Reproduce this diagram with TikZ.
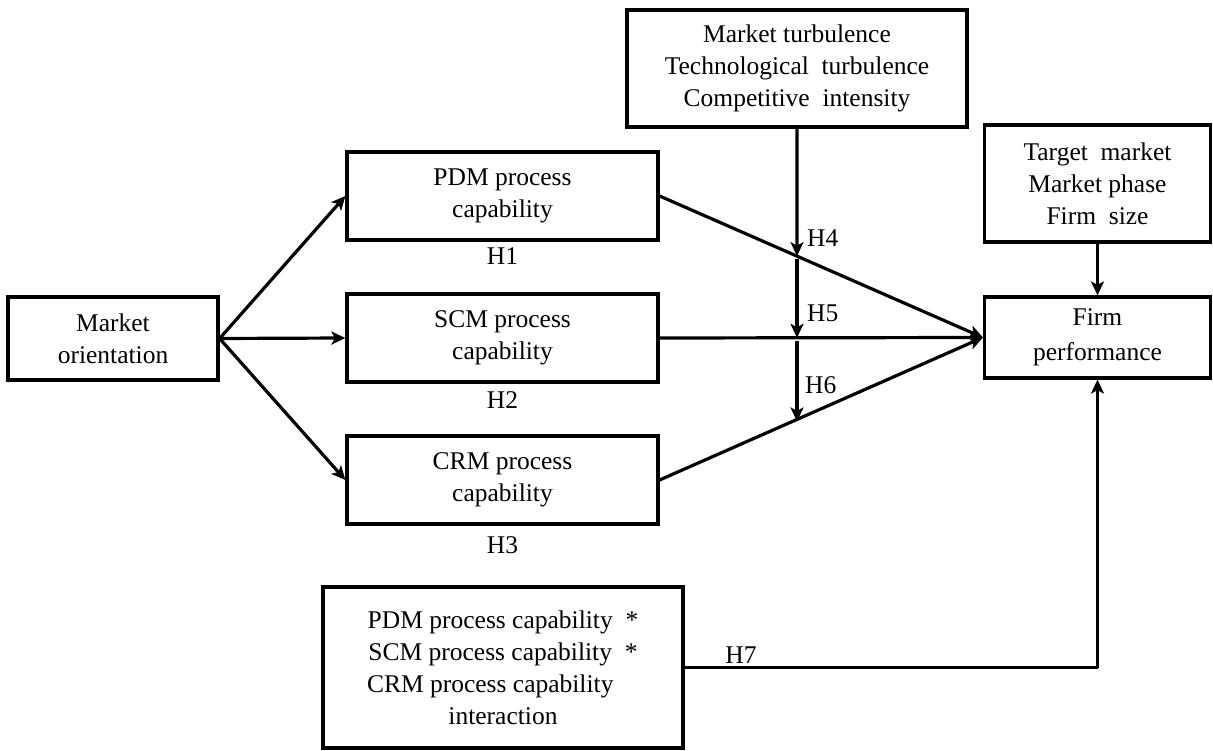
\documentclass[tikz,border=0pt]{standalone}
\usepackage{fontspec}
\setmainfont{Liberation Serif}
\usetikzlibrary{arrows.meta,calc}
\begin{document}
\begin{tikzpicture}[x=1pt,y=-1pt,
  box/.style={draw,line width=3.2pt,inner sep=0pt,align=center,font=\fontsize{25.5}{32}\selectfont},
  lbl/.style={inner sep=0pt,font=\fontsize{25.5}{32}\selectfont},
  arr/.style={line width=3.2pt,-{Stealth[length=14pt,width=13pt,inset=3.5pt]}},
  ln/.style={line width=3.2pt}]
\useasboundingbox (0,0) rectangle (1213,751);
\node[box,minimum width=210,minimum height=83] (mo) at (113,338.5) {Market\\orientation};
\node[box,minimum width=311,minimum height=88] (pdm) at (502.5,196) {PDM process\\capability};
\node[box,minimum width=311,minimum height=88] (scm) at (502.5,338) {SCM process\\capability};
\node[box,minimum width=311,minimum height=88] (crm) at (502.5,480) {CRM process\\capability};
\node[box,minimum width=340,minimum height=117] (env) at (797,68.5) {Market turbulence\\Technological\ \ turbulence\\Competitive\ \ intensity};
\node[box,minimum width=226,minimum height=117] (ctrl) at (1097.5,183.5) {Target\ \ market\\Market phase\\Firm\ \ size};
\node[box,minimum width=226,minimum height=81,font=\fontsize{25.5}{35}\selectfont] (fp) at (1097.5,337.5) {Firm\\performance};
\node[box,minimum width=360,minimum height=161] (int) at (503,667.5) {PDM process capability\ \ *\\SCM process capability\ \ *\\CRM process capability\phantom{\ \ *}\\interaction};
\node[lbl] (h1) at (502.5,256) {H1};
\node[lbl] (h2) at (502.5,400) {H2};
\node[lbl] (h3) at (502.5,545) {H3};
\node[lbl,anchor=west] (h4) at (807,238) {H4};
\node[lbl,anchor=west] (h5) at (807,313) {H5};
\node[lbl,anchor=west] (h6) at (805,385) {H6};
\node[lbl] (h7) at (741,655) {H7};
% market orientation arrows
\draw[arr] (mo.east) -- (pdm.west);
\draw[arr] (mo.east) -- (scm.west);
\draw[arr] (mo.east) -- (crm.west);
% capability to performance
\draw[arr] (pdm.east) -- (fp.west);
\draw[arr] (scm.east) -- (fp.west);
\draw[arr] (crm.east) -- (fp.west);
% moderators
\coordinate (c4) at ($(pdm.east)!0.425!(fp.west)$);
\coordinate (c5) at ($(scm.east)!0.425!(fp.west)$);
\coordinate (c6) at ($(crm.east)!0.425!(fp.west)$);
\draw[arr] (env.south) -- (c4);
\draw[arr] ([yshift=-3pt]c4) -- (c5);
\draw[arr] ([yshift=-3pt]c5) -- ([yshift=-2pt]c6);
% controls
\draw[arr] (ctrl.south) -- (fp.north);
% interaction
\coordinate (k7) at (int.east -| fp.south);
\draw[ln] (int.east) -- (k7);
\draw[arr] (k7) -- (fp.south);
\end{tikzpicture}
\end{document}
